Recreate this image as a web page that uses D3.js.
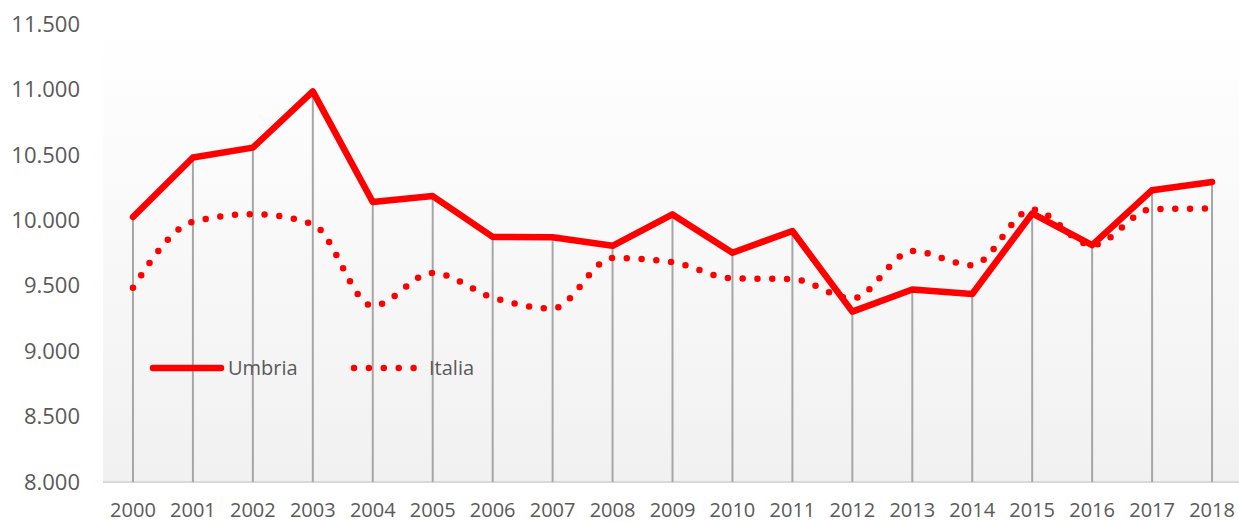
<!DOCTYPE html>
<html>
<head>
<meta charset="utf-8">
<script src="https://d3js.org/d3.v7.min.js"></script>
<style>
  body { margin: 0; background: #fff; }
  text { font-family: "Open Sans", "Noto Sans", sans-serif; fill: #595959; }
</style>
</head>
<body>
<svg id="chart"></svg>
<script>
let years = ['2000','2001','2002','2003','2004','2005','2006','2007','2008','2009',
             '2010','2011','2012','2013','2014','2015','2016','2017','2018']
let umbria = [10025, 10480, 10555, 10985, 10140, 10185, 9873, 9870, 9805, 10045,
              9752, 9918, 9302, 9471, 9437, 10052, 9810, 10230, 10292]
let italia = [9485, 9988, 10047, 9970, 9345, 9598, 9410, 9326, 9712, 9680,
              9556, 9550, 9402, 9765, 9657, 10082, 9810, 10085, 10090]
let yTicks = [8000, 8500, 9000, 9500, 10000, 10500, 11000, 11500]

let width = 1239
let height = 522
let plotLeft = 103
let plotRight = 1242
let plotTop = 24
let plotBottom = 482

let svg = d3.select('#chart')
  .attr('width', width)
  .attr('height', height)

let xScale = d3.scalePoint()
  .domain(years)
  .range([plotLeft, plotRight])
  .padding(0.5)

let yScale = d3.scaleLinear()
  .domain([8000, 11500])
  .range([plotBottom, plotTop])

let fmt = d3.formatLocale({decimal: ',', thousands: '.', grouping: [3]}).format(',.0f')

/* plot background gradient */
let grad = svg.append('defs').append('linearGradient')
  .attr('id', 'bg').attr('x1', 0).attr('y1', 0).attr('x2', 0).attr('y2', 1)
grad.append('stop').attr('offset', '0%').attr('stop-color', '#ffffff')
grad.append('stop').attr('offset', '100%').attr('stop-color', '#f1f1f1')

svg.append('rect')
  .attr('x', plotLeft).attr('y', plotTop)
  .attr('width', plotRight - plotLeft).attr('height', plotBottom - plotTop)
  .attr('fill', 'url(#bg)')

/* y axis labels */
svg.append('g')
  .selectAll('text')
  .data(yTicks)
  .enter()
  .append('text')
  .attr('x', 80)
  .attr('y', d => yScale(d))
  .attr('dy', '0.35em')
  .attr('text-anchor', 'end')
  .style('font-size', '22px')
  .text(d => fmt(d))

/* baseline */
svg.append('line')
  .attr('x1', plotLeft).attr('x2', plotRight)
  .attr('y1', plotBottom).attr('y2', plotBottom)
  .attr('stroke', '#d9d9d9').attr('stroke-width', 2)

/* drop lines */
svg.append('g')
  .selectAll('line')
  .data(years)
  .enter()
  .append('line')
  .attr('x1', d => xScale(d)).attr('x2', d => xScale(d))
  .attr('y1', (d, i) => yScale(umbria[i]))
  .attr('y2', plotBottom)
  .attr('stroke', '#a6a6a6')
  .attr('stroke-width', 2)

/* x axis labels */
svg.append('g')
  .selectAll('text')
  .data(years)
  .enter()
  .append('text')
  .attr('x', d => xScale(d))
  .attr('y', 510)
  .attr('dy', '0.35em')
  .attr('text-anchor', 'middle')
  .style('font-size', '20px')
  .text(d => d)

/* Italia: smoothed dotted line */
let italiaLine = d3.line()
  .x((d, i) => xScale(years[i]))
  .y(d => yScale(d))
  .curve(d3.curveMonotoneX)

svg.append('path')
  .datum(italia)
  .attr('d', italiaLine)
  .attr('fill', 'none')
  .attr('stroke', '#ff0000')
  .attr('stroke-width', 6.5)
  .attr('stroke-linecap', 'round')
  .attr('stroke-dasharray', '0 14.8')

/* Umbria: solid line */
let umbriaLine = d3.line()
  .x((d, i) => xScale(years[i]))
  .y(d => yScale(d))

svg.append('path')
  .datum(umbria)
  .attr('d', umbriaLine)
  .attr('fill', 'none')
  .attr('stroke', '#ff0000')
  .attr('stroke-width', 6.5)
  .attr('stroke-linejoin', 'round')
  .attr('stroke-linecap', 'round')

/* legend */
let legend = svg.append('g')
legend.append('line')
  .attr('x1', 153).attr('x2', 221).attr('y1', 368).attr('y2', 368)
  .attr('stroke', '#ff0000').attr('stroke-width', 6.5)
  .attr('stroke-linecap', 'round')
legend.append('text')
  .attr('x', 228).attr('y', 368).attr('dy', '0.35em')
  .style('font-size', '20px')
  .text('Umbria')
legend.append('line')
  .attr('x1', 354).attr('x2', 416).attr('y1', 368).attr('y2', 368)
  .attr('stroke', '#ff0000').attr('stroke-width', 6.5)
  .attr('stroke-linecap', 'round')
  .attr('stroke-dasharray', '0 14.9')
legend.append('text')
  .attr('x', 429).attr('y', 368).attr('dy', '0.35em')
  .style('font-size', '20px')
  .text('Italia')
</script>
</body>
</html>
